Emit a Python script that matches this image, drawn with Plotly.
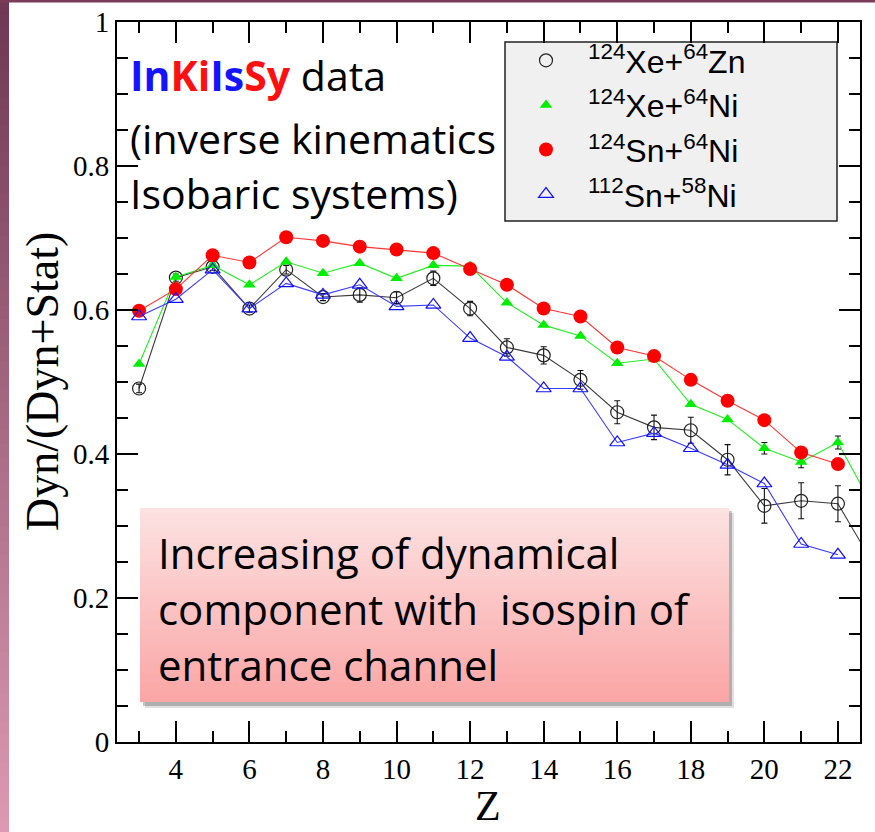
import plotly.graph_objects as go

# ---------------- data ----------------
Z = [3, 4, 5, 6, 7, 8, 9, 10, 11, 12, 13, 14, 15, 16, 17, 18, 19, 20, 21, 22, 23]

xe_zn = [0.491, 0.645, 0.660, 0.602, 0.656, 0.618, 0.621, 0.617, 0.644, 0.602, 0.548,
         0.537, 0.503, 0.458, 0.437, 0.433, 0.392, 0.328, 0.335, 0.331, 0.244]
xe_zn_err = [0.006, 0.005, 0.005, 0.005, 0.006, 0.005, 0.010, 0.008, 0.010, 0.010, 0.012,
             0.012, 0.013, 0.016, 0.017, 0.018, 0.021, 0.024, 0.025, 0.025, 0.025]

xe_ni = [0.525, 0.646, 0.662, 0.635, 0.667, 0.651, 0.665, 0.644, 0.662, 0.661, 0.610,
         0.579, 0.564, 0.526, 0.532, 0.469, 0.448, 0.408, 0.389, 0.416, 0.322]
xe_ni_err = [0, 0, 0, 0, 0, 0, 0, 0, 0, 0, 0, 0, 0, 0, 0, 0, 0, 0.008, 0.008, 0.009, 0.01]

Z_sn = [3, 4, 5, 6, 7, 8, 9, 10, 11, 12, 13, 14, 15, 16, 17, 18, 19, 20, 21, 22]
sn124_ni = [0.599, 0.629, 0.676, 0.666, 0.701, 0.696, 0.688, 0.684, 0.679, 0.657, 0.635,
            0.602, 0.591, 0.548, 0.536, 0.503, 0.474, 0.447, 0.402, 0.386]
sn112_ni = [0.591, 0.615, 0.656, 0.602, 0.637, 0.621, 0.635, 0.605, 0.607, 0.561, 0.535,
            0.491, 0.491, 0.416, 0.429, 0.408, 0.385, 0.359, 0.275, 0.260]

names = ["<sup>124</sup>Xe+<sup>64</sup>Zn", "<sup>124</sup>Xe+<sup>64</sup>Ni",
         "<sup>124</sup>Sn+<sup>64</sup>Ni", "<sup>112</sup>Sn+<sup>58</sup>Ni"]

x_ticks = [4, 6, 8, 10, 12, 14, 16, 18, 20, 22]
y_ticks = [0, 0.2, 0.4, 0.6, 0.8, 1]
x_title = "Z"
y_title = "Dyn/(Dyn+Stat)"

# ---------------- layout geometry (pixels) ----------------
W, H = 875, 832
PL, PR, PT, PB = 117, 860, 22, 742


def px(x):
    return (x - PL) / (PR - PL)


def py(y):
    return (PB - y) / (PB - PT)


fig = go.Figure()

series = [
    dict(x=Z, y=xe_zn, err=xe_zn_err, name=names[0], lc="#3a3a3a",
         marker=dict(symbol="circle-open", size=13, color="#222222", line=dict(width=1.2, color="#222222"))),
    dict(x=Z, y=xe_ni, err=xe_ni_err, name=names[1], lc="#22ee22",
         marker=dict(symbol="triangle-up", size=11, color="#00ee00", line=dict(width=0))),
    dict(x=Z_sn, y=sn124_ni, err=None, name=names[2], lc="#ff3333",
         marker=dict(symbol="circle", size=14, color="#ff0000", line=dict(width=0))),
    dict(x=Z_sn, y=sn112_ni, err=None, name=names[3], lc="#3a3aff",
         marker=dict(symbol="triangle-up-open", size=13, color="#1010ff", line=dict(width=1.2, color="#1010ff"))),
]

for s in series:
    fig.add_trace(go.Scatter(x=s["x"], y=s["y"], mode="lines",
                             line=dict(color=s["lc"], width=1.1),
                             showlegend=False, hoverinfo="skip"))
    ey = None
    if s["err"] is not None:
        ey = dict(type="data", array=s["err"], visible=True, color="#111111",
                  thickness=1.1, width=3)
    fig.add_trace(go.Scatter(x=s["x"], y=s["y"], mode="markers", name=s["name"],
                             marker=s["marker"], error_y=ey))

shapes = []

# slide decoration: left gradient strip and top line
n_strip = 60
c0 = (0x70, 0x38, 0x54)
c1 = (0xdc, 0x9a, 0xb2)
for i in range(n_strip):
    t = i / (n_strip - 1)
    col = "rgb(%d,%d,%d)" % tuple(int(a + (b - a) * t) for a, b in zip(c0, c1))
    y0 = i * H / n_strip
    y1 = (i + 1) * H / n_strip + 1
    shapes.append(dict(type="rect", xref="paper", yref="paper",
                       x0=px(0), x1=px(9), y0=py(y0), y1=py(y1),
                       fillcolor=col, line=dict(width=0), layer="above"))
shapes.append(dict(type="rect", xref="paper", yref="paper", x0=px(0), x1=px(W),
                   y0=py(0), y1=py(2.5), fillcolor="#7a3c58", line=dict(width=0), layer="above"))

# legend box
shapes.append(dict(type="rect", xref="paper", yref="paper", x0=px(505), x1=px(837),
                   y0=py(42), y1=py(221), fillcolor="#f0f0f0",
                   line=dict(color="#222222", width=1.5), layer="below"))

# pink callout box: shadow + vertical gradient
BX0, BX1, BY0, BY1 = 140, 729, 508, 702
shapes.append(dict(type="rect", xref="paper", yref="paper", x0=px(BX0 + 5), x1=px(BX1 + 5),
                   y0=py(BY0 + 5), y1=py(BY1 + 6), fillcolor="rgba(0,0,0,0.12)",
                   line=dict(width=0), layer="above"))
shapes.append(dict(type="rect", xref="paper", yref="paper", x0=px(BX0 + 3), x1=px(BX1 + 3),
                   y0=py(BY0 + 3), y1=py(BY1 + 4), fillcolor="rgba(0,0,0,0.22)",
                   line=dict(width=0), layer="above"))
n_box = 40
g0 = (0xfd, 0xe2, 0xe2)
g1 = (0xfb, 0xa6, 0xa6)
for i in range(n_box):
    t = i / (n_box - 1)
    col = "rgb(%d,%d,%d)" % tuple(int(a + (b - a) * t) for a, b in zip(g0, g1))
    y0 = BY0 + i * (BY1 - BY0) / n_box
    y1 = min(BY1, BY0 + (i + 1) * (BY1 - BY0) / n_box + 0.8)
    shapes.append(dict(type="rect", xref="paper", yref="paper", x0=px(BX0), x1=px(BX1),
                       y0=py(y0), y1=py(y1), fillcolor=col, line=dict(width=0), layer="above"))

annotations = []
sans = "Open Sans"
serif = "Liberation Serif"
top_lines = [
    ('<b><span style="color:#1414ff">In</span><span style="color:#ff1010">Ki</span>'
     '<span style="color:#1414ff">Is</span><span style="color:#ff1010">Sy</span></b> data', 75),
    ("(inverse kinematics", 138),
    ("Isobaric systems)", 193),
]
for txt, yy in top_lines:
    annotations.append(dict(text=txt, xref="paper", yref="paper", x=px(128), y=py(yy),
                            xanchor="left", yanchor="middle", showarrow=False,
                            font=dict(family=sans, size=41, color="black")))

box_lines = [("Increasing of dynamical", 552),
             ("component with  isospin of", 608),
             ("entrance channel", 664)]
for txt, yy in box_lines:
    annotations.append(dict(text=txt, xref="paper", yref="paper", x=px(156), y=py(yy),
                            xanchor="left", yanchor="middle", showarrow=False,
                            font=dict(family=sans, size=42, color="black")))

# axis titles
annotations.append(dict(text=x_title, xref="paper", yref="paper", x=px(488), y=py(806),
                        xanchor="center", yanchor="middle", showarrow=False,
                        font=dict(family=serif, size=42, color="black")))
annotations.append(dict(text=y_title, xref="paper", yref="paper", x=px(42), y=py(382),
                        xanchor="center", yanchor="middle", showarrow=False, textangle=-90,
                        font=dict(family=serif, size=46, color="black")))

axis_common = dict(showline=True, linewidth=2, linecolor="black", mirror="ticks",
                   ticks="inside", ticklen=21, tickwidth=1.5, tickcolor="black",
                   showgrid=False, zeroline=False, automargin=False,
                   tickfont=dict(family=serif, size=29, color="black"))

fig.update_xaxes(range=[2.4, 22.6], tickvals=x_ticks,
                 minor=dict(ticks="inside", ticklen=11, tickwidth=1.5, tickcolor="black",
                            dtick=1, tick0=0, showgrid=False),
                 **axis_common)
fig.update_yaxes(range=[0, 1], tickvals=y_ticks,
                 minor=dict(ticks="inside", ticklen=11, tickwidth=1.5, tickcolor="black",
                            dtick=0.05, tick0=0, showgrid=False),
                 **axis_common)

fig.update_layout(
    width=W, height=H,
    margin=dict(l=PL, r=W - PR, t=PT, b=H - PB, pad=0, autoexpand=False),
    paper_bgcolor="white", plot_bgcolor="white",
    shapes=shapes, annotations=annotations,
    legend=dict(x=px(504), y=py(33), xanchor="left", yanchor="top",
                bgcolor="rgba(0,0,0,0)", borderwidth=0, itemwidth=74,
                font=dict(family="Liberation Sans", size=32, color="black"),
                tracegroupgap=0),
)

fig.write_html("out.html")
